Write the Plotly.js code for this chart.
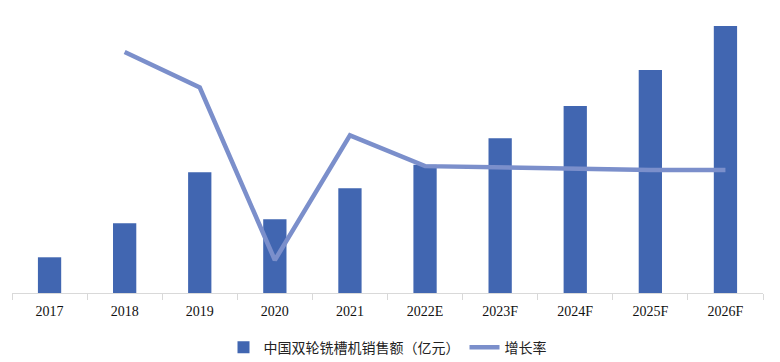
<!DOCTYPE html>
<html>
<head>
<meta charset="utf-8">
<script src="https://cdn.plot.ly/plotly-3.0.1.min.js"></script>
<style>html,body{margin:0;padding:0;background:#fff;}#chart{width:780px;height:362px;}</style>
</head>
<body>
<div id="chart"></div>
<script>
const categories = ["2017","2018","2019","2020","2021","2022E","2023F","2024F","2025F","2026F"];
const salesValues = [5.35, 10.45, 18.1, 11.05, 15.7, 19.2, 23.2, 28.0, 33.4, 40.0];
const growthRates = [null, 0.96, 0.73, -0.39, 0.42, 0.22, 0.21, 0.205, 0.195, 0.195];
const seriesNames = ["中国双轮铣槽机销售额（亿元）", "增长率"];

const traces = [
  {
    type: "bar",
    x: categories,
    y: salesValues,
    name: seriesNames[0],
    marker: {color: "#4166B1"},
    yaxis: "y"
  },
  {
    type: "scatter",
    mode: "lines",
    x: categories,
    y: growthRates,
    name: seriesNames[1],
    line: {color: "#7B8FCB", width: 4.5},
    yaxis: "y2",
    connectgaps: false
  }
];

const layout = {
  width: 780,
  height: 362,
  margin: {l: 12, r: 17, t: 20, b: 69, autoexpand: false},
  paper_bgcolor: "#ffffff",
  plot_bgcolor: "#ffffff",
  showlegend: true,
  bargap: 0.69,
  xaxis: {
    type: "category",
    automargin: false,
    showline: true,
    linecolor: "#d9d9d9",
    linewidth: 1,
    ticks: "outside",
    tickson: "boundaries",
    ticklen: 6,
    tickcolor: "#d9d9d9",
    ticklabelstandoff: 5,
    showgrid: false,
    zeroline: false,
    tickfont: {family: "Liberation Serif, Times New Roman, serif", size: 14, color: "#111"}
  },
  yaxis: {
    visible: false,
    range: [0, 40.9],
    showgrid: false,
    zeroline: false
  },
  yaxis2: {
    visible: false,
    overlaying: "y",
    side: "right",
    range: [-0.603, 1.168],
    showgrid: false,
    zeroline: false
  },
  legend: {
    orientation: "h",
    x: 0.5,
    xanchor: "center",
    y: -0.2,
    yanchor: "middle",
    font: {family: "Noto Sans CJK SC, sans-serif", size: 14, color: "#222"},
    itemwidth: 30,
    traceorder: "normal"
  }
};

Plotly.newPlot("chart", traces, layout, {displayModeBar: false, staticPlot: true});
</script>
</body>
</html>
